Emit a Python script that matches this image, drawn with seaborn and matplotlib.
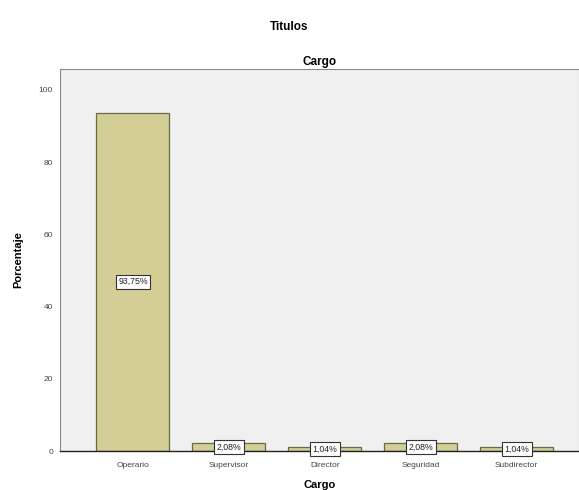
import matplotlib
matplotlib.use("Agg")
import matplotlib.pyplot as plt
import seaborn as sns
import pandas as pd

categorias = ["Operario", "Supervisor", "Director", "Seguridad", "Subdirector"]
porcentajes = [93.75, 2.08, 1.04, 2.08, 1.04]
etiquetas = ["93,75%", "2,08%", "1,04%", "2,08%", "1,04%"]
yticks = [0, 20, 40, 60, 80, 100]

sns.set_style("white")
plt.rcParams["font.family"] = ["Liberation Sans", "DejaVu Sans"]
plt.rcParams["text.color"] = "black"
plt.rcParams["axes.labelcolor"] = "black"

df = pd.DataFrame({"Cargo": categorias, "Porcentaje": porcentajes})

fig = plt.figure(figsize=(5.79, 4.90), dpi=100)
ax = fig.add_axes([60 / 579, 39 / 490, 519 / 579, 382 / 490])
ax.set_facecolor("#f0f0f0")

sns.barplot(data=df, x="Cargo", y="Porcentaje", ax=ax, color="#d3ce96",
            width=0.76, edgecolor="#6b6a45", linewidth=0.9, saturation=1)

for i, (v, t) in enumerate(zip(porcentajes, etiquetas)):
    ax.text(i, v / 2, t, ha="center", va="center", fontsize=6.3, color="#222222",
            bbox=dict(boxstyle="square,pad=0.3", facecolor="white",
                      edgecolor="#333333", linewidth=0.8))

ax.set_xlim(-0.76, 4.65)
ax.set_ylim(0, 105.8)
ax.set_yticks(yticks)
ax.set_yticklabels([str(v) for v in yticks], fontsize=6, color="#444444")
ax.set_xticks(range(len(categorias)))
ax.set_xticklabels(categorias, fontsize=6, color="#444444")
ax.tick_params(axis="y", direction="out", length=3, width=0.7, color="#333333", pad=2)
ax.tick_params(axis="x", direction="out", length=4, width=0.7, color="#333333", pad=4)

for side in ["top", "right", "left"]:
    ax.spines[side].set_color("#888888")
    ax.spines[side].set_linewidth(0.8)
ax.spines["bottom"].set_color("#222222")
ax.spines["bottom"].set_linewidth(1.0)

ax.set_xlabel("Cargo", fontsize=8, fontweight="bold", labelpad=8)
ax.set_ylabel("Porcentaje", fontsize=8, fontweight="bold", labelpad=11)
ax.set_title("Cargo", fontsize=8.5, fontweight="bold", pad=3)
fig.text(0.5, 1 - 27 / 490, "Titulos", ha="center", va="center",
         fontsize=8.5, fontweight="bold")

fig.savefig("out.png", dpi=100, facecolor="white")
